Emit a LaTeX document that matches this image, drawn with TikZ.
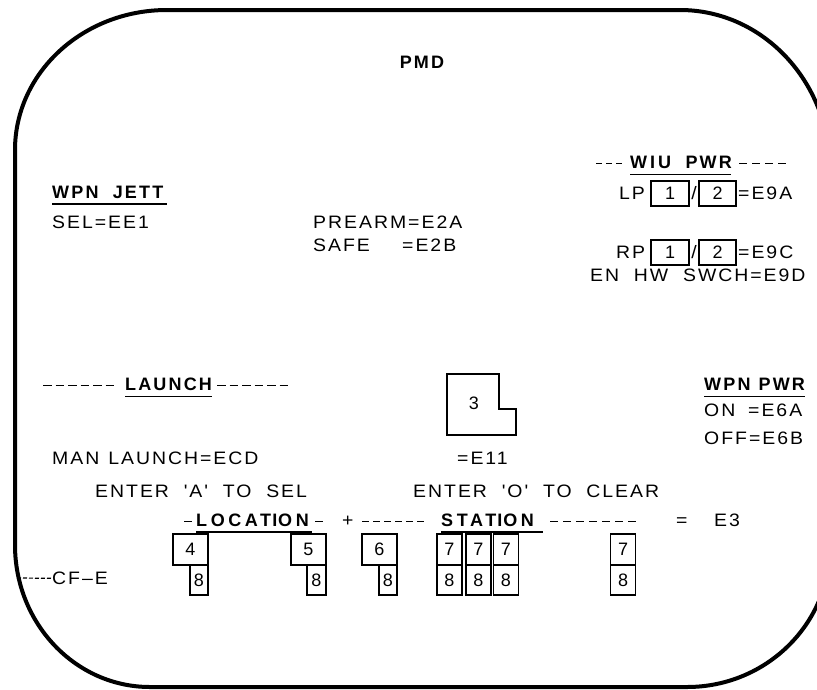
\documentclass[tikz,border=0pt]{standalone}
\usepackage{fontspec}
\newfontfamily\pmdf[LetterSpace=11, FakeStretch=1.08]{Liberation Sans}
\newfontfamily\pmdb[LetterSpace=12]{Liberation Sans Bold}
\newfontfamily\pmdbw[LetterSpace=20]{Liberation Sans Bold}
\newfontfamily\pmdn{Liberation Sans}
\tikzset{
 txt/.style={anchor=base west, inner sep=0pt, font=\pmdf\fontsize{18}{21}\selectfont},
 hdr/.style={txt, font=\pmdb\fontsize{18}{21}\selectfont},
 hdrw/.style={txt, font=\pmdbw\fontsize{18}{21}\selectfont},
 ulin/.style={line width=1.8pt},
 frame/.style={line width=4pt},
 bx/.style={draw, line width=1.5pt, inner sep=0pt, font=\pmdn\fontsize{18}{21}\selectfont, anchor=center},
 dl/.style={dashed, dash pattern=on 4pt off 2pt, line width=1.2pt}
}
\newcommand{\q}{{\char39}}
\newcommand{\sI}{\hspace{3pt}I\hspace{3pt}}
% a dash of the given length followed by a gap
\newcommand{\dsh}[2]{\rule[4.6pt]{#1}{1.4pt}\hspace{#2}}
\begin{document}
\begin{tikzpicture}[x=1pt,y=-1pt]
\useasboundingbox (0,0) rectangle (817,689);
\clip (0,0) rectangle (817,689);
% frame
\draw[frame] (15,150) -- (15,545)
  arc[start angle=180, end angle=90, x radius=135, y radius=142]
  -- (687,687)
  arc[start angle=90, end angle=0, x radius=143, y radius=140]
  -- (830,170)
  arc[start angle=0, end angle=-90, x radius=150, y radius=160]
  -- (167,10)
  arc[start angle=-90, end angle=-180, x radius=152, y radius=140] -- cycle;
% title
\node[hdr, anchor=base] (pmd) at (422,68) {PMD};
% WPN JETT
\node[hdr] (wj) at (52,198) {WPN\ \ JETT};
\draw[ulin] (52,204) -- (167,204);
\node[txt] (sel) at (52,228.5) {SEL=EE1};
\node[txt] (pre) at (313,228.5) {PREARM=E2A};
\node[txt] (safe) at (313,251.5) {SAFE};
\node[txt] (e2b) at (402,251.5) {=E2B};
% WIU PWR
\node[txt] (wd1) at (596,168.5) {\dsh{6pt}{4pt}\dsh{6pt}{4pt}\dsh{6pt}{0pt}};
\node[hdr] (wiu) at (630,168.5) {W\sI U\ \ PWR};
\node[txt] (wd2) at (739,168.5) {\dsh{8pt}{5pt}\dsh{8pt}{5pt}\dsh{8pt}{5pt}\dsh{8pt}{0pt}};
\draw[ulin] (630,174.5) -- (731,174.5);
\node[txt] (lp) at (619,199.5) {LP};
\node[bx, minimum width=38, minimum height=25] (lp1) at (670,193.5) {1};
\node[txt, anchor=base] (lps) at (694,199.5) {/};
\node[bx, minimum width=37, minimum height=25] (lp2) at (717.5,193.5) {2};
\node[txt] (e9a) at (738,199.5) {=E9A};
\node[txt] (rp) at (616,258.5) {RP};
\node[bx, minimum width=38, minimum height=25] (rp1) at (670,252.5) {1};
\node[txt, anchor=base] (rps) at (694,258.5) {/};
\node[bx, minimum width=37, minimum height=25] (rp2) at (717.5,252.5) {2};
\node[txt] (e9c) at (738,258.5) {=E9C};
\node[txt] (en) at (590,281.5) {EN\ \ HW\ \ SWCH=E9D};
% LAUNCH
\node[txt] (ld1) at (43,390.5) {\dsh{8.5pt}{4pt}\dsh{8.5pt}{4pt}\dsh{8.5pt}{4pt}\dsh{8.5pt}{4pt}\dsh{8.5pt}{4pt}\dsh{8.5pt}{0pt}};
\node[hdr] (launch) at (125,390.5) {LAUNCH};
\node[txt] (ld2) at (217,390.5) {\dsh{8.5pt}{4pt}\dsh{8.5pt}{4pt}\dsh{8.5pt}{4pt}\dsh{8.5pt}{4pt}\dsh{8.5pt}{4pt}\dsh{8.5pt}{0pt}};
\draw[ulin] (125,396.5) -- (212,396.5);
\node[txt] (man) at (52,464.5) {MAN\hspace{9pt}LAUNCH=ECD};
% box 3
\draw[line width=1.5pt] (447,374) -- (499,374) -- (499,409) -- (516,409) -- (516,435) -- (447,435) -- cycle;
\node[bx, draw=none] (b3) at (474,403) {3};
\node[txt] (e11) at (457,464.5) {=E11};
% WPN PWR
\node[hdr] (wp) at (704,390.5) {WPN\ \kern1pt PWR};
\draw[ulin] (704,396.5) -- (805,396.5);
\node[txt] (on) at (704,416.5) {ON};
\node[txt] (e6a) at (748,416.5) {=E6A};
\node[txt] (off) at (704,444.5) {OFF=E6B};
% enter lines
\node[txt] (ea) at (95,497.5) {ENTER\ \ \q A\q\ \ TO\ \ SEL};
\node[txt] (eo) at (413,497.5) {ENTER\ \ \q O\q\ \ TO\ \ CLEAR};
% location / station
\node[txt] (lc1) at (184,526.5) {\dsh{8pt}{0pt}};
\node[hdrw] (loc) at (196,526.5) {LOCAT\hspace{1pt}I\hspace{1pt}ON};
\node[txt] (lc2) at (315,526.5) {\dsh{8pt}{0pt}};
\draw[ulin] (196,532) -- (312,532);
\node[txt] (plus) at (342,526.5) {+};
\node[txt] (sd1) at (362,526.5) {\dsh{7pt}{4pt}\dsh{7pt}{4pt}\dsh{7pt}{4pt}\dsh{7pt}{4pt}\dsh{7pt}{4pt}\dsh{7pt}{0pt}};
\node[hdrw] (sta) at (441,526.5) {STAT\hspace{1pt}I\hspace{1pt}ON};
\draw[ulin] (441,532) -- (543,532);
\node[txt] (sd2) at (550,526.5) {\dsh{8pt}{5pt}\dsh{8pt}{5pt}\dsh{8pt}{5pt}\dsh{8pt}{5pt}\dsh{8pt}{5pt}\dsh{8pt}{5pt}\dsh{8pt}{0pt}};
\node[txt] (eq) at (676,526.5) {=};
\node[txt] (e3) at (714,526.5) {E3};
% boxes row
\node[bx, minimum width=35, minimum height=31] (b4) at (190.5,549.5) {4};
\node[bx, minimum width=18, minimum height=30] (b48) at (199,580) {8};
\node[bx, minimum width=35, minimum height=31] (b5) at (308.5,549.5) {5};
\node[bx, minimum width=19, minimum height=30] (b58) at (316.5,580) {8};
\node[bx, minimum width=35, minimum height=31] (b6) at (379.5,549.5) {6};
\node[bx, minimum width=18, minimum height=30] (b68) at (388,580) {8};
\foreach \cx/\nm in {449.5/a, 478.5/b, 506/c, 623/d}{
  \node[bx, minimum width=25, minimum height=31] (s\nm7) at (\cx,549.5) {7};
  \node[bx, minimum width=25, minimum height=30] (s\nm8) at (\cx,580) {8};
}
% CF-E
\coordinate (cfs) at (17,578);
\node[txt] (cf) at (52,584.5) {CF–E};
\draw[dl] (cfs) -- (cf.west);
\end{tikzpicture}
\end{document}
